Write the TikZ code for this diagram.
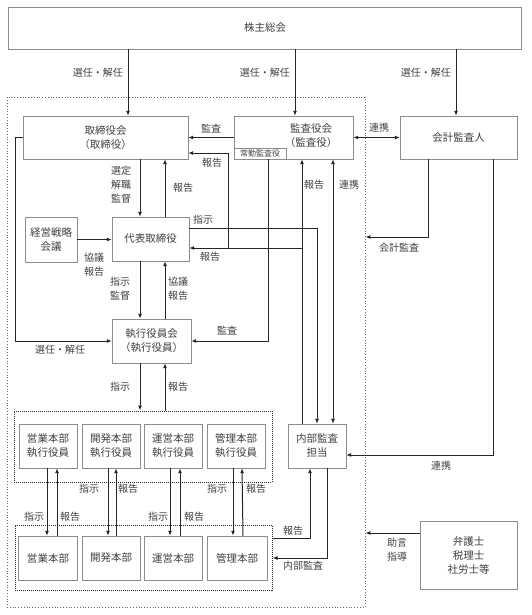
\documentclass[tikz,border=0pt]{standalone}
\usepackage{fontspec}
\newfontfamily\jp{Noto Sans CJK JP}
\usetikzlibrary{arrows.meta}
\tikzset{
    org-box/.style = {draw=black!45, fill=white, thin, rectangle, align=center, text=black!75, font=\jp\fontsize{10.5}{14}\selectfont, inner sep=0pt},
    org-text/.style = {align=center, text=black!75, font=\jp\fontsize{10.5}{14}\selectfont, inner sep=0pt},
    outer-frame/.style = {draw=black!60, dotted, line width=0.8pt, rectangle, inner sep=0pt},
    group-frame/.style = {draw=black!85, densely dotted, line width=1pt, rectangle, inner sep=0pt},
    flow-line/.style = {draw=black!85, line width=1pt},
    flow-arrow/.style = {flow-line, -{Latex[length=5pt,width=4pt]}},
    flow-both/.style = {flow-line, {Latex[length=5pt,width=4pt]}-{Latex[length=5pt,width=4pt]}},
    flow-label/.style = {text=black!75, font=\jp\fontsize{10}{14}\selectfont, align=center, inner sep=1pt},
}
\begin{document}
\begin{tikzpicture}[x=1pt,y=-1pt]
\useasboundingbox (0,0) rectangle (531,615);

\node[outer-frame, minimum width=358pt, minimum height=510pt] (company) at (186,352) {};
\node[group-frame, minimum width=258pt, minimum height=71pt] (exec-group) at (143,446.5) {};
\node[group-frame, minimum width=257pt, minimum height=65pt] (dept-group) at (143.5,557.5) {};

\node[org-box, minimum width=513pt, minimum height=42pt] (meeting) at (265,28) {株主総会};
\node[org-box, minimum width=165pt, minimum height=43pt] (board) at (105.5,137.5) {取締役会\\（取締役）};
\node[org-box, minimum width=119pt, minimum height=43pt] (auditors) at (293.5,137.5) {};
\node[org-text] (auditors-text) at (311,136) {監査役会\\（監査役）};
\node[org-box, minimum width=52pt, minimum height=11pt, font=\jp\fontsize{8}{9}\selectfont, anchor=south west] (standing) at (234,159) {常勤監査役};
\node[org-box, minimum width=117pt, minimum height=43pt] (accountant) at (458.5,137.5) {会計監査人};
\node[org-box, minimum width=77pt, minimum height=44pt] (ceo) at (150.5,239) {代表取締役};
\node[org-box, minimum width=52pt, minimum height=45pt] (strategy) at (51,239.5) {経営戦略\\会議};
\node[org-box, minimum width=79pt, minimum height=44pt] (officers) at (151.5,341) {執行役員会\\（執行役員）};

\node[org-box, minimum width=58pt, minimum height=44pt] (exec-sales) at (48,446) {営業本部\\執行役員};
\node[org-box, minimum width=58pt, minimum height=44pt] (exec-dev) at (111,446) {開発本部\\執行役員};
\node[org-box, minimum width=58pt, minimum height=44pt] (exec-ops) at (173,446) {運営本部\\執行役員};
\node[org-box, minimum width=58pt, minimum height=44pt] (exec-admin) at (236,446) {管理本部\\執行役員};
\node[org-box, minimum width=58pt, minimum height=44pt] (audit-unit) at (317,446) {内部監査\\担当};

\node[org-box, minimum width=59pt, minimum height=44pt] (dept-sales) at (48,558) {営業本部};
\node[org-box, minimum width=58pt, minimum height=44pt] (dept-dev) at (111,558) {開発本部};
\node[org-box, minimum width=58pt, minimum height=44pt] (dept-ops) at (173,558) {運営本部};
\node[org-box, minimum width=60pt, minimum height=44pt] (dept-admin) at (237,558) {管理本部};
\node[org-box, minimum width=97pt, minimum height=68pt] (advisers) at (468.5,555) {弁護士\\税理士\\社労士等};

\coordinate (col-vote1) at (128,0);
\coordinate (col-vote2) at (295,0);
\coordinate (col-vote3) at (456,0);
\coordinate (col-down) at (140,0);
\coordinate (col-up) at (165,0);
\coordinate (col-left) at (15,0);
\coordinate (col-board-rep) at (228,0);
\coordinate (col-standing) at (268,0);
\coordinate (col-rep) at (302,0);
\coordinate (col-inst) at (317,0);
\coordinate (col-link) at (333,0);
\coordinate (col-irep) at (310,0);
\coordinate (col-iaud) at (327,0);
\coordinate (col-acct1) at (428,0);
\coordinate (col-acct2) at (493,0);
\coordinate (row-board-rep) at (0,153);
\coordinate (row-ceo-inst) at (0,228);
\coordinate (row-ceo-rep) at (0,248);
\coordinate (row-acct) at (0,237);
\coordinate (row-link) at (0,455);
\coordinate (row-adv) at (0,533);
\coordinate (row-grp-rep) at (0,538);
\coordinate (row-grp-aud) at (0,558);

\draw[flow-arrow] (meeting.south -| col-vote1) -- (board.north -| col-vote1);
\draw[flow-arrow] (meeting.south -| col-vote2) -- (auditors.north -| col-vote2);
\draw[flow-arrow] (meeting.south -| col-vote3) -- (accountant.north -| col-vote3);
\node[flow-label, anchor=east] (vote-board) at (124,73) {選任・解任};
\node[flow-label, anchor=east] (vote-auditors) at (291,73) {選任・解任};
\node[flow-label, anchor=east] (vote-accountant) at (452,73) {選任・解任};

\draw[flow-arrow] (auditors.west) -- (board.east);
\node[flow-label] (audit-board) at (211,129) {監査};
\draw[flow-both] (auditors.east) -- (accountant.west);
\node[flow-label] (link-accountant) at (379,128) {連携};

\draw[flow-arrow] (board.south -| col-down) -- (ceo.north -| col-down);
\node[flow-label] (appoint) at (121,185) {選定\\解職\\監督};
\draw[flow-arrow] (ceo.north -| col-up) -- (board.south -| col-up);
\node[flow-label] (report-board) at (183,188) {報告};
\draw[flow-arrow] (strategy.east) -- (strategy.east -| ceo.west);
\node[flow-label] (consult-strategy) at (94,265) {協議\\報告};

\draw[flow-arrow] (board.west) -- (board.west -| col-left) |- (officers.west);
\node[flow-label] (vote-officers) at (60,350) {選任・解任};
\draw[flow-arrow] (ceo.south -| col-down) -- (officers.north -| col-down);
\node[flow-label] (instruct-officers) at (120,289) {指示\\監督};
\draw[flow-arrow] (officers.north -| col-up) -- (ceo.south -| col-up);
\node[flow-label] (consult-officers) at (178,289) {協議\\報告};
\draw[flow-arrow] (standing.south -| col-standing) |- (officers.east);
\node[flow-label] (audit-officers) at (227,331) {監査};

\draw[flow-arrow] (audit-unit.north -| col-rep) -- (auditors.south -| col-rep);
\node[flow-label] (report-auditors) at (314,185) {報告};
\draw[flow-arrow] (col-rep |- row-ceo-rep) -- (ceo.east |- row-ceo-rep);
\node[flow-label] (report-ceo) at (210,257) {報告};
\draw[flow-arrow] (col-board-rep |- row-ceo-rep) |- (board.east |- row-board-rep);
\node[flow-label] (report-unit) at (212,163) {報告};
\draw[flow-arrow] (ceo.east |- row-ceo-inst) -| (audit-unit.north -| col-inst);
\node[flow-label] (instruct-unit) at (203,220) {指示};
\draw[flow-both] (auditors.south -| col-link) -- (audit-unit.north -| col-link);
\node[flow-label] (link-unit) at (349,185) {連携};

\draw[flow-arrow] (accountant.south -| col-acct1) |- (company.east |- row-acct);
\node[flow-label] (acct-audit) at (399,248) {会計監査};
\draw[flow-arrow] (accountant.south -| col-acct2) |- (audit-unit.east |- row-link);
\node[flow-label] (link-internal) at (441,466) {連携};

\draw[flow-arrow] (officers.south -| col-down) -- (exec-group.north -| col-down);
\node[flow-label] (instruct-group) at (120,387) {指示};
\draw[flow-arrow] (exec-group.north -| col-up) -- (officers.south -| col-up);
\node[flow-label] (report-group) at (178,387) {報告};

\draw[flow-arrow] ([xshift=-1pt]exec-sales.south) -- ([xshift=-1pt]dept-sales.north);
\draw[flow-arrow] ([xshift=9pt]dept-sales.north) -- ([xshift=9pt]exec-sales.south);
\draw[flow-arrow] ([xshift=-3pt]exec-dev.south) -- ([xshift=-3pt]dept-dev.north);
\draw[flow-arrow] ([xshift=5pt]dept-dev.north) -- ([xshift=5pt]exec-dev.south);
\draw[flow-arrow] ([xshift=-3pt]exec-ops.south) -- ([xshift=-3pt]dept-ops.north);
\draw[flow-arrow] ([xshift=7pt]dept-ops.north) -- ([xshift=7pt]exec-ops.south);
\draw[flow-arrow] ([xshift=-3pt]exec-admin.south) -- ([xshift=-4pt]dept-admin.north);
\draw[flow-arrow] ([xshift=6pt]dept-admin.north) -- ([xshift=6pt]exec-admin.south);
\node[flow-label] (instruct-dev) at (89,489) {指示};
\node[flow-label] (report-dev) at (128,489) {報告};
\node[flow-label] (instruct-admin) at (217,489) {指示};
\node[flow-label] (report-admin) at (256,489) {報告};
\node[flow-label] (instruct-sales) at (34,517) {指示};
\node[flow-label] (report-sales) at (70,517) {報告};
\node[flow-label] (instruct-ops) at (158,517) {指示};
\node[flow-label] (report-ops) at (194,517) {報告};

\draw[flow-arrow] (dept-group.east |- row-grp-rep) -| (audit-unit.south -| col-irep);
\node[flow-label] (report-internal) at (293,531) {報告};
\draw[flow-arrow] (audit-unit.south -| col-iaud) |- (dept-group.east |- row-grp-aud);
\node[flow-label] (internal-audit) at (303,566) {内部監査};
\draw[flow-arrow] (advisers.west |- row-adv) -- (company.east |- row-adv);
\node[flow-label] (advice) at (397,550) {助言\\指導};
\end{tikzpicture}
\end{document}
